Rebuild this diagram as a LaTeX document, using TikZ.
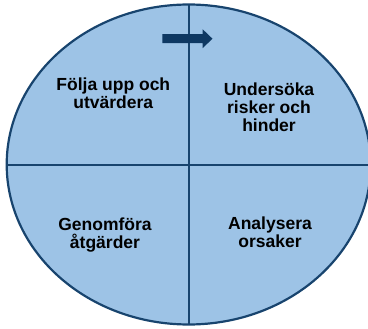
\documentclass[tikz,border=0pt]{standalone}
\usepackage{fontspec}
\setmainfont{Liberation Sans}
\definecolor{fillblue}{RGB}{157,195,230}
\definecolor{lineblue}{RGB}{24,68,110}
\definecolor{arrowblue}{RGB}{14,56,98}
\begin{document}
\begin{tikzpicture}[x=1pt,y=1pt,
  quadtext/.style={align=center,inner sep=0pt,anchor=north,
    font=\fontsize{17.5}{18.3}\selectfont\bfseries,text=black},
  rim/.style={draw=lineblue,line width=2.2pt}]
\useasboundingbox (0,0) rectangle (368,-329);
\clip (0,0) rectangle (368,-329);
\coordinate (c) at (188.7,-164.5);
\fill[fillblue] (c) ellipse [x radius=182, y radius=160];
\coordinate (top) at (188.7,-4.5);
\coordinate (bot) at (188.7,-324.5);
\coordinate (lft) at (6.7,-165);
\coordinate (rgt) at (370.7,-165);
\draw[rim] (top) -- (bot);
\draw[rim] (lft) -- (rgt);
\draw[rim] (c) ellipse [x radius=182, y radius=160];
\fill[arrowblue] (162.3,-34.2) -- (202.7,-34.2) -- (202.7,-29.3) -- (212.5,-38.7)
  -- (202.7,-48.1) -- (202.7,-43.2) -- (162.3,-43.2) -- cycle;
\node[quadtext] (tl) at (113.3,-77.3) {Följa upp och\\utvärdera};
\node[quadtext] (tr) at (269,-82.3) {Undersöka\\risker och\\hinder};
\node[quadtext] (bl) at (105,-217.3) {Genomföra\\åtgärder};
\node[quadtext] (br) at (270,-216.7) {Analysera\\orsaker};
\end{tikzpicture}
\end{document}
